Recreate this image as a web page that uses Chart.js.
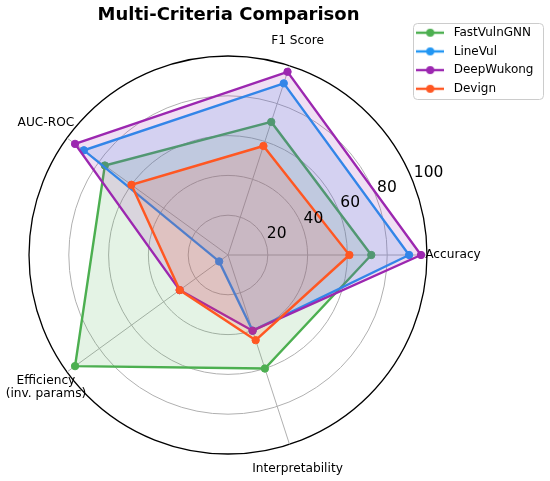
<!DOCTYPE html>
<html lang="en">
  <head>
    <meta charset="UTF-8" />
    <title>Multi-Criteria Comparison</title>
    <style>
      body {
        margin: 0;
        background: #ffffff;
      }
      #radarChart {
        display: block;
      }
    </style>
    <script src="https://cdn.jsdelivr.net/npm/chart.js"></script>
  </head>
  <body>
    <canvas id="radarChart" width="550" height="481"></canvas>
    <script>
      // Categories in clockwise order starting at the right (Accuracy)
      const categories = [
        "Accuracy",
        "Interpretability",
        ["Efficiency", "(inv. params)"],
        "AUC-ROC",
        "F1 Score",
      ];
      const radialTicks = [0, 20, 40, 60, 80, 100];

      const seriesNames = ["FastVulnGNN", "LineVul", "DeepWukong", "Devign"];
      const fastVulnGNN = [72, 60, 95, 76.5, 70.3];
      const lineVul = [91, 40, 5.5, 89.5, 90.7];
      const deepWukong = [97, 40, 30, 95, 96.8];
      const devign = [61, 45, 30, 60, 57.6];

      const seriesValues = [fastVulnGNN, lineVul, deepWukong, devign];
      const seriesColors = ["#4CAF50", "#2196F3", "#9C27B0", "#FF5722"];
      const fillAlpha = 0.15;

      const FONT = "'DejaVu Sans', 'Liberation Sans', sans-serif";
      Chart.defaults.font.family = FONT;
      Chart.defaults.color = "#000000";

      function hexToRgba(hex, a) {
        const n = parseInt(hex.slice(1), 16);
        return `rgba(${(n >> 16) & 255}, ${(n >> 8) & 255}, ${n & 255}, ${a})`;
      }

      // Legend handle: a short line with a circle marker, like matplotlib
      function makeHandle(color) {
        const c = document.createElement("canvas");
        c.width = 28;
        c.height = 10;
        const g = c.getContext("2d");
        g.strokeStyle = color;
        g.lineWidth = 2.4;
        g.beginPath();
        g.moveTo(0, 5);
        g.lineTo(28, 5);
        g.stroke();
        g.fillStyle = color;
        g.beginPath();
        g.arc(14, 5, 4, 0, Math.PI * 2);
        g.fill();
        return c;
      }

      const datasets = seriesNames.map((name, i) => ({
        label: name,
        data: seriesValues[i],
        borderColor: seriesColors[i],
        backgroundColor: hexToRgba(seriesColors[i], fillAlpha),
        borderWidth: 2.4,
        fill: true,
        pointRadius: 3.7,
        pointBorderWidth: 1,
        pointBackgroundColor: seriesColors[i],
        pointBorderColor: seriesColors[i],
        pointStyle: "circle",
        legendHandle: makeHandle(seriesColors[i]),
        order: seriesNames.length - i, // later series on top, as in the original
      }));

      // Draws radial tick labels along 22.5 deg and the category labels
      const radarText = {
        id: "radarText",
        afterLayout(chart) {
          const lg = chart.legend;
          lg.left = 406;
          lg.right = lg.left + lg.width;
          lg.top = 20;
          lg.bottom = lg.top + lg.height;
        },
        beforeDraw(chart) {
          const ctx = chart.ctx;
          ctx.save();
          ctx.fillStyle = "rgba(255,255,255,0.8)";
          ctx.strokeStyle = "#cccccc";
          ctx.lineWidth = 1;
          ctx.beginPath();
          ctx.roundRect(413.5, 23.5, 130, 76, 4);
          ctx.fill();
          ctx.stroke();
          ctx.restore();
        },
        afterDraw(chart) {
          const scale = chart.scales.r;
          const ctx = chart.ctx;
          ctx.save();
          ctx.fillStyle = "#000000";

          // radial tick labels
          const a = (22.5 * Math.PI) / 180;
          ctx.font = `15.5px ${FONT}`;
          ctx.textAlign = "left";
          ctx.textBaseline = "alphabetic";
          scale.ticks.forEach((t) => {
            if (t.value === 0) return;
            const d = scale.getDistanceFromCenterForValue(t.value);
            const x = scale.xCenter + d * Math.cos(a) + 2;
            const y = scale.yCenter - d * Math.sin(a) - 2;
            ctx.fillText(String(t.value), x, y);
          });

          // category labels, centred just outside the outer circle
          ctx.font = `12.2px ${FONT}`;
          ctx.textAlign = "center";
          ctx.textBaseline = "middle";
          const lineH = 13.5;
          chart.data.labels.forEach((lab, i) => {
            const p = scale.getPointPosition(i, scale.drawingArea + 26);
            const lines = Array.isArray(lab) ? lab : [lab];
            const y0 = p.y - ((lines.length - 1) * lineH) / 2;
            lines.forEach((s, k) => ctx.fillText(s, p.x, y0 + k * lineH));
          });
          ctx.restore();
        },
      };

      const chart = new Chart(document.getElementById("radarChart"), {
        type: "radar",
        data: {
          labels: categories,
          datasets: datasets,
        },
        options: {
          responsive: false,
          animation: false,
          devicePixelRatio: 1,
          layout: {
            padding: { left: 29, right: 122, top: 0, bottom: 26 },
          },
          elements: {
            line: { borderJoinStyle: "miter", tension: 0 },
          },
          scales: {
            r: {
              min: 0,
              max: 100,
              startAngle: 90,
              ticks: {
                display: false,
                stepSize: 20,
                callback: (v) => (radialTicks.includes(v) ? v : ""),
              },
              pointLabels: { display: false },
              grid: {
                circular: true,
                color: (c) => (c.tick && c.tick.value === 100 ? "#000000" : "#b0b0b0"),
                lineWidth: (c) => (c.tick && c.tick.value === 100 ? 1.3 : 1),
              },
              angleLines: {
                color: "#b0b0b0",
                lineWidth: 1,
              },
            },
          },
          plugins: {
            title: {
              display: true,
              text: "Multi-Criteria Comparison",
              font: { size: 18, weight: "bold" },
              color: "#000000",
              padding: { top: 5, bottom: 29.4 },
            },
            legend: {
              display: true,
              position: "chartArea",
              align: "start",
              labels: {
                usePointStyle: true,
                pointStyleWidth: 35,
                padding: 6.7,
                font: { size: 12 },
                color: "#000000",
                sort: (a, b) => a.datasetIndex - b.datasetIndex,
                generateLabels: (ch) =>
                  ch.data.datasets.map((d, i) => ({
                    text: d.label,
                    datasetIndex: i,
                    fillStyle: d.borderColor,
                    strokeStyle: d.borderColor,
                    lineWidth: 0,
                    pointStyle: d.legendHandle,
                    hidden: !ch.isDatasetVisible(i),
                    fontColor: "#000000",
                  })),
              },
            },
            tooltip: { enabled: false },
          },
        },
        plugins: [radarText],
      });
    </script>
  </body>
</html>
